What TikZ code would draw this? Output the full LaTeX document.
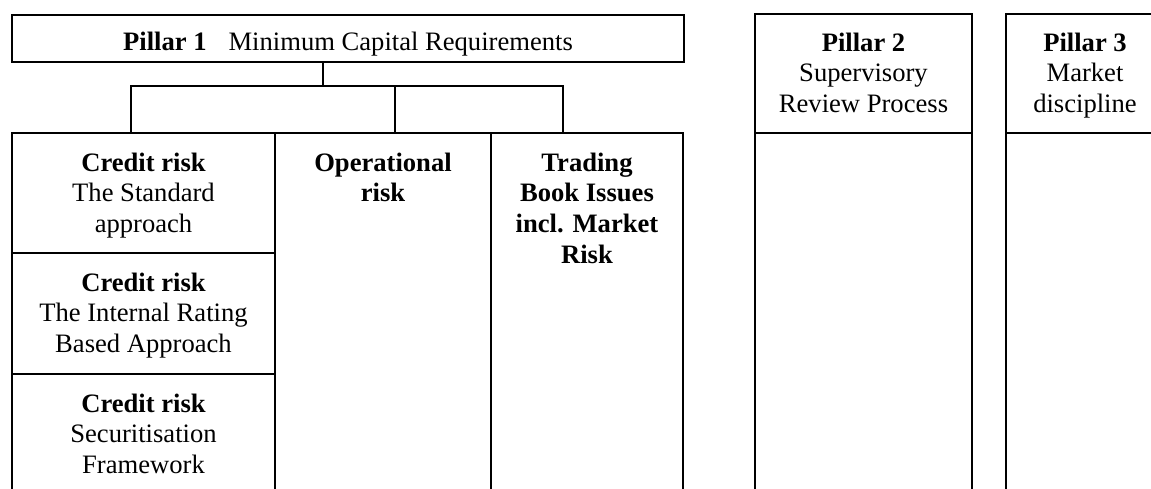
\documentclass[tikz,border=0pt]{standalone}
\usepackage{fontspec}
\setmainfont{Liberation Serif}
\usetikzlibrary{positioning}
\begin{document}
\begin{tikzpicture}[x=1pt,y=-1pt,line width=1.4pt,
    box/.style={draw,outer sep=0pt,inner sep=0pt,anchor=north west},
    txt/.style={align=center,inner sep=0pt,font=\fontsize{26.6}{30.7}\selectfont}]
      \clip (0,0) rectangle (1151,488);
      % pillar 1 and its parts
      \node[box,anchor=center,minimum width=672,minimum height=47] (p1) at (348,38.5) {};
      \node[txt,anchor=base] (p1t) at (348,50)
        {\textbf{Pillar 1}\hspace{22pt}Minimum Capital Requirements};
      \node[box,minimum width=263,minimum height=120] (cr1) at (12,133) {};
      \node[box,minimum width=263,minimum height=121] (cr2) at (12,253) {};
      \node[box,minimum width=263,minimum height=125] (cr3) at (12,374) {};
      \node[box,minimum width=216,minimum height=366] (op) at (275,133) {};
      \node[box,minimum width=192,minimum height=366] (tb) at (491,133) {};
      \node[txt,below=19pt of cr1.north] (cr1t) {\textbf{Credit risk}\\The Standard\\approach};
      \node[txt,below=19pt of cr2.north] (cr2t) {\textbf{Credit risk}\\The Internal Rating\\Based Approach};
      \node[txt,below=19pt of cr3.north] (cr3t) {\textbf{Credit risk}\\Securitisation\\Framework};
      \node[txt,below=19pt of op.north] (opt) {\textbf{Operational}\\\textbf{risk}};
      \node[txt,below=19pt of tb.north] (tbt) {\textbf{Trading}\\\textbf{Book Issues}\\\textbf{incl. Market}\\\textbf{Risk}};
      % tree lines
      \coordinate (bus) at (323,86);
      \coordinate (d1) at (131,133);
      \coordinate (d2) at (395,133);
      \coordinate (d3) at (563,133);
      \draw (p1.south -| bus) -- (bus);
      \draw (d1) |- (d3 |- bus) -- (d3);
      \draw (d2) -- (d2 |- bus);
      % pillar 2 and 3
      \node[box,minimum width=217,minimum height=119] (p2) at (755,14) {};
      \node[box,minimum width=217,minimum height=366] (p2b) at (755,133) {};
      \node[box,minimum width=158,minimum height=119] (p3) at (1006,14) {};
      \node[box,minimum width=158,minimum height=366] (p3b) at (1006,133) {};
      \node[txt,below=18pt of p2.north] (p2t) {\textbf{Pillar 2}\\Supervisory\\Review Process};
      \node[txt,below=18pt of p3.north] (p3t) {\textbf{Pillar 3}\\Market\\discipline};
    \end{tikzpicture}
\end{document}
